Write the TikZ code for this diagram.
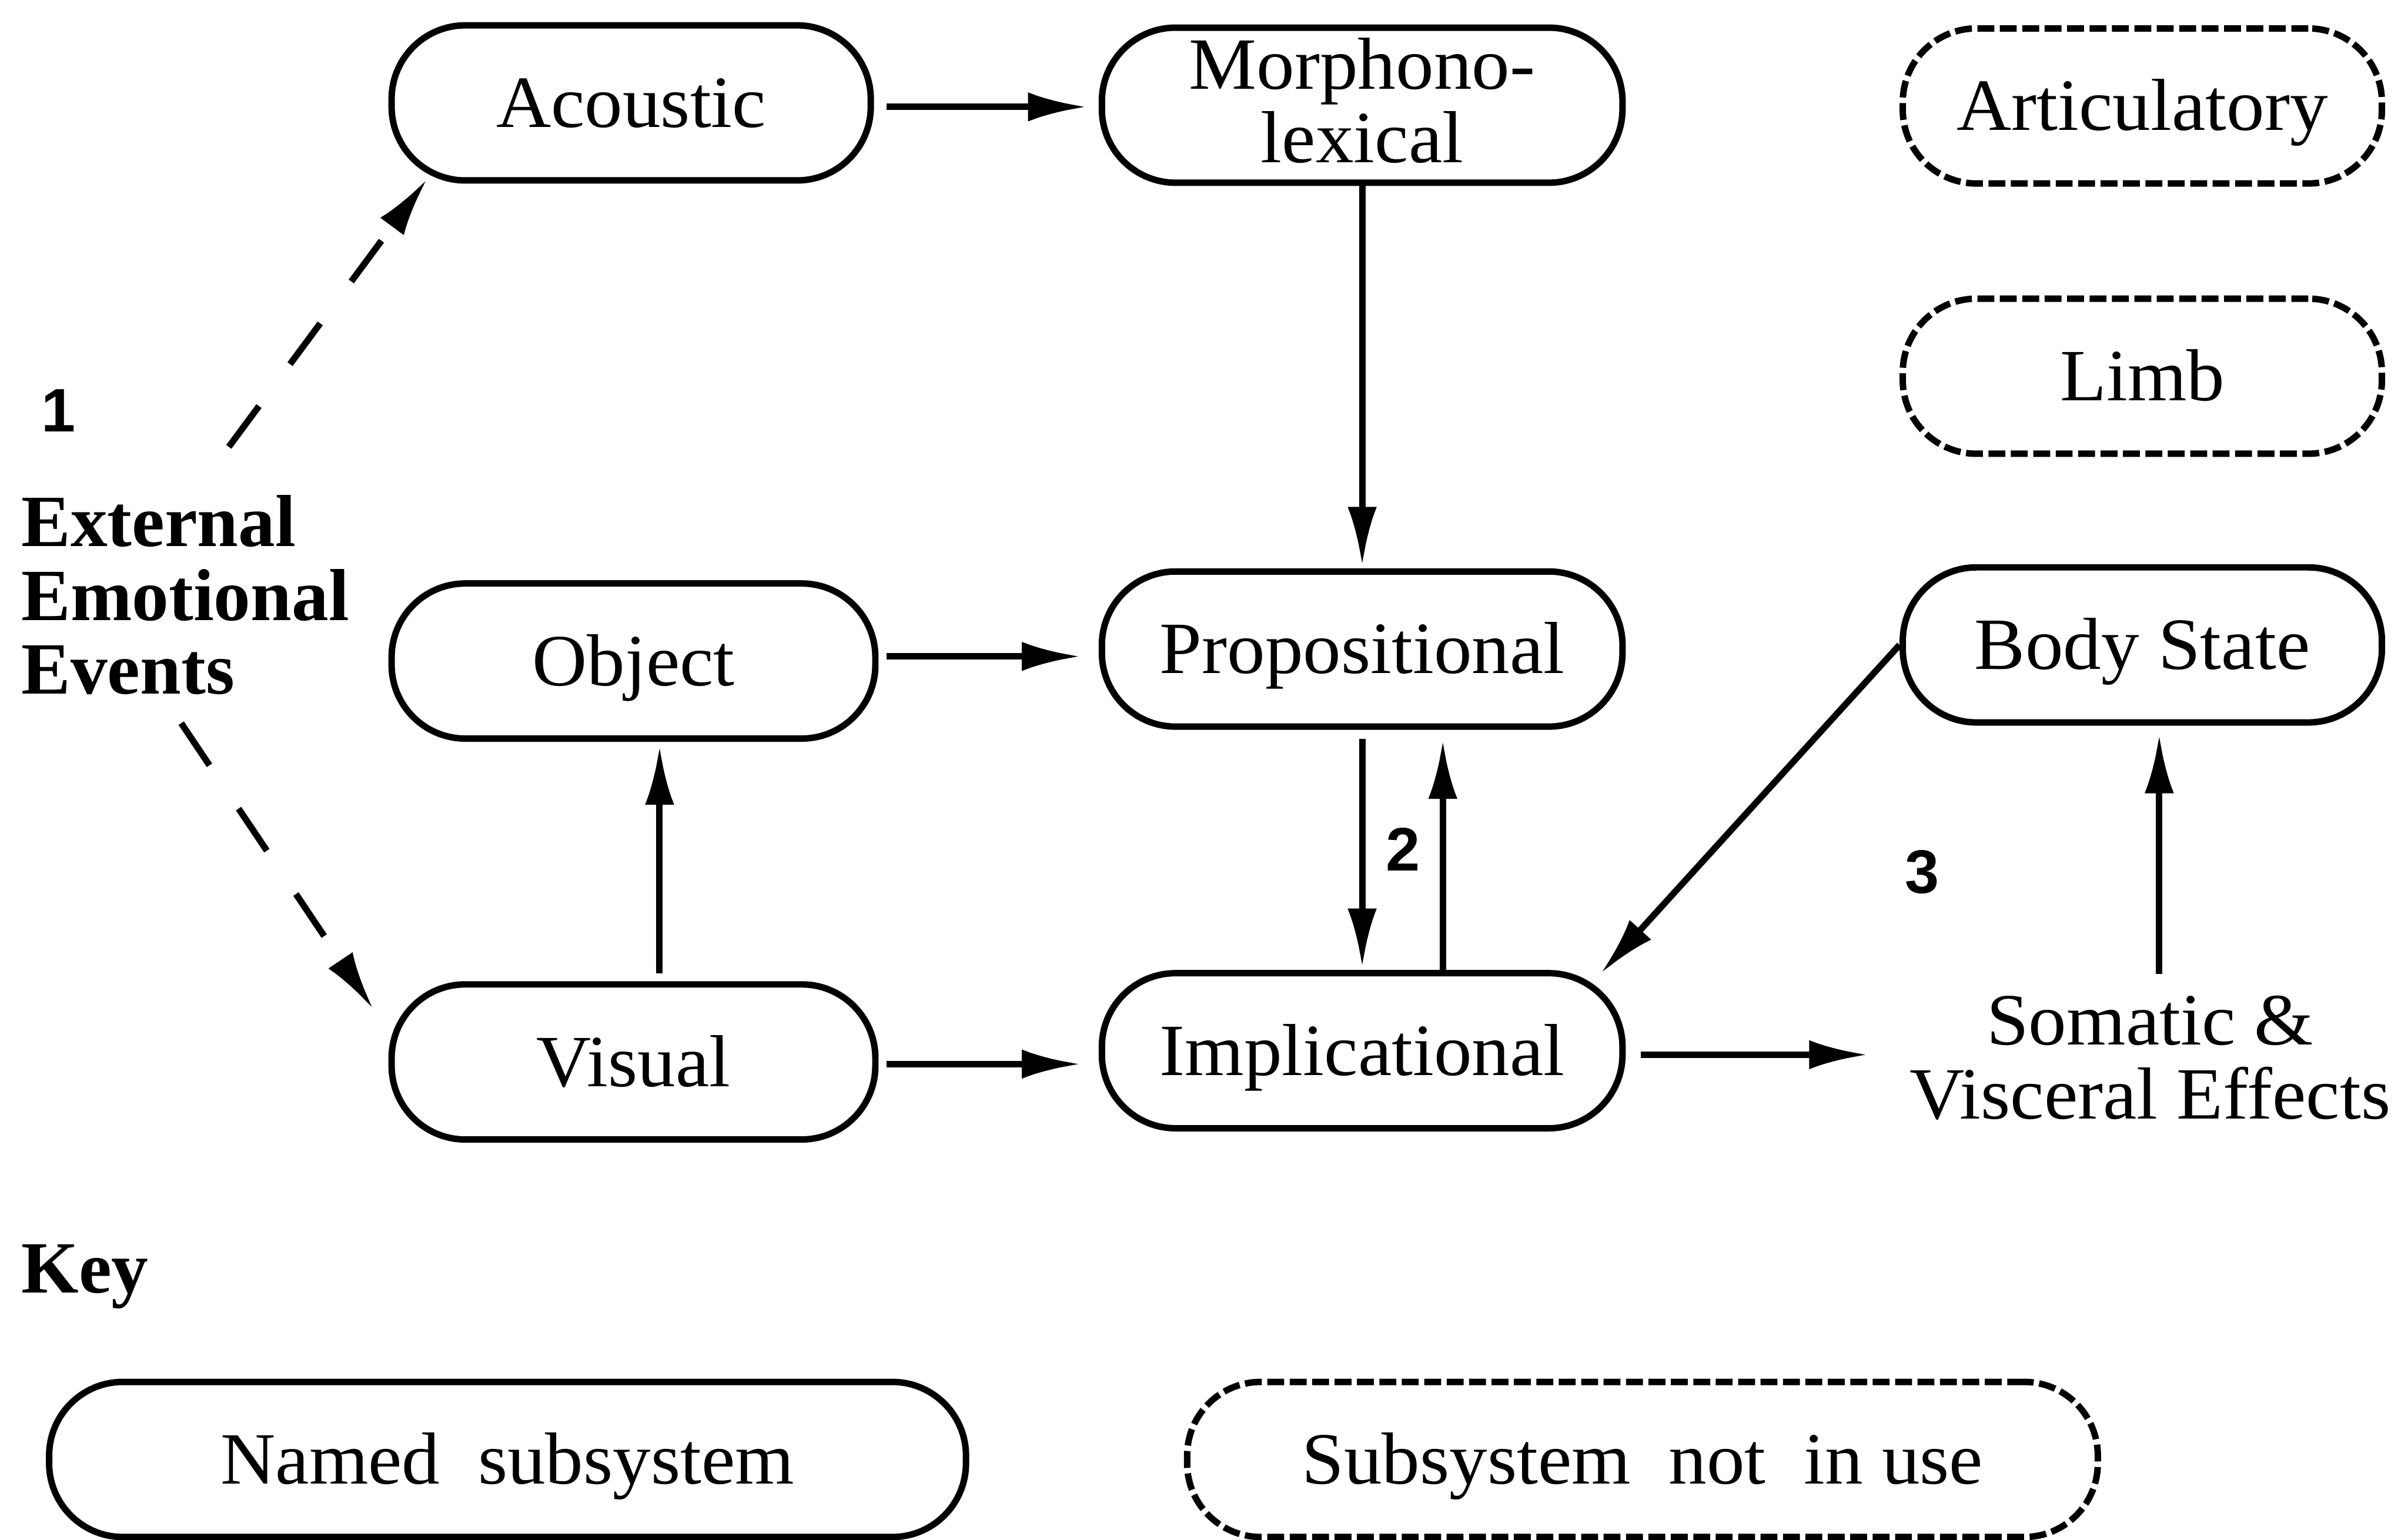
\documentclass[tikz,border=0pt]{standalone}
\usepackage{fontspec}
\setmainfont{Liberation Serif}[FakeStretch=1.03]
\newfontfamily\labelfam{Liberation Serif}
\newfontfamily\numfam{Liberation Sans}
\usetikzlibrary{arrows.meta}

% type faces: serif text, bold serif labels, bold sans numbers
\newcommand\boxtext{\fontsize{24}{24}\selectfont}
\newcommand\boldlabel{\labelfam\bfseries\fontsize{24}{24}\selectfont}
\newcommand\numlabel{\numfam\bfseries\fontsize{20}{20}\selectfont}

\tikzset{
  subsys/.style={draw, line width=2.1pt, rounded corners=24pt,
    minimum width=#1, minimum height=50.5pt, inner sep=0pt,
    text height=15.9pt, text depth=0pt,
    align=center, font=\boxtext},
  subsys/.default=157.5pt,
  idle/.style={subsys=#1, dash pattern=on 5.5pt off 1.8pt},
  idle/.default=156pt,
  flow/.style={line width=2.1pt, -{Latex[length=19pt,width=9.5pt]}},
  flowdash/.style={flow, dash pattern=on 16.5pt off 17pt},
}

\begin{document}
\begin{tikzpicture}[x=0.5pt, y=-0.5pt]
\useasboundingbox (0,0) rectangle (1568,1002.6);

% subsystems
\node[subsys=156pt]   (acoustic) at (411,67)    {Acoustic};
\node[subsys=169.5pt, text height=37.5pt]
                      (morph)    at (887,68.5)  {Morphono-\\lexical};
\node[idle]           (artic)    at (1395,69)   {Articulatory};
\node[idle]           (limb)     at (1395,245)  {Limb};
\node[subsys]         (object)   at (412.5,430.5) {Object};
\node[subsys=169.5pt] (prop)     at (887,422.7) {Propositional};
\node[subsys=156pt]   (body)     at (1395,420)  {Body State};
\node[subsys]         (visual)   at (412.5,691.6) {Visual};
\node[subsys=169.5pt] (impl)     at (887,684.3) {Implicational};
\node[inner xsep=0pt, inner ysep=7pt, align=center, font=\boxtext]
                      (somatic)  at (1400,689)  {Somatic \&\\Visceral Effects};

% labels
\node[anchor=base west, inner sep=0pt, align=left, font=\boldlabel]
      (events) at (13.6,452) {External\\Emotional\\Events};
\node[font=\numlabel, inner sep=0pt] (n1) at (38,267.5)   {1};
\node[font=\numlabel, inner sep=0pt] (n2) at (913.5,553)  {2};
\node[font=\numlabel, inner sep=0pt] (n3) at (1251.5,568) {3};

% key
\node[anchor=base west, inner sep=0pt, font=\boldlabel] (key) at (13.6,842) {Key};
\node[subsys=298.5pt] (keynamed) at (330.5,950.5)  {Named\ \ subsystem};
\node[idle=296.5pt]   (keyidle)  at (1069.5,950.5) {Subsystem\ \ not\ \ in use};

% external events entering the sensory subsystems
\coordinate (ev1) at (149,291);
\coordinate (ev2) at (118,471);
\draw[flowdash] (ev1) -- ([xshift=12.5pt,yshift=1.35pt]acoustic.south west);
\draw[flowdash] (ev2) -- ([xshift=-5pt,yshift=-9pt]visual.north west);

% information flow
\draw[flow, shorten <=4pt, shorten >=4pt]
  ([yshift=-1.3pt]acoustic.east) -- ([yshift=-1.3pt]acoustic.east -| morph.west);
\draw[flow, shorten >=1pt] (morph.south) -- (prop.north);
\draw[flow, shorten <=2.5pt, shorten >=6pt]
  ([yshift=1.5pt]object.east) -- ([yshift=1.5pt]object.east -| prop.west);
\draw[flow, shorten <=2.5pt, shorten >=1.5pt]
  ([xshift=8.5pt]visual.north) -- ([xshift=8.5pt]object.south);
\draw[flow, shorten <=2.5pt, shorten >=6pt]
  ([yshift=-0.7pt]visual.east) -- ([yshift=-0.7pt]visual.east -| impl.west);
\draw[flow, shorten <=3pt, shorten >=1pt] (prop.south) -- (impl.north);
\draw[flow, shorten >=3.5pt]
  ([xshift=26.25pt]impl.north) -- ([xshift=26.25pt]prop.south);
\draw[flow] (body.west) -- ([xshift=-8pt,yshift=-1pt]impl.north east);
\draw[flow, shorten <=5pt, shorten >=13.5pt]
  ([yshift=-1.3pt]impl.east) -- ([yshift=-1.3pt]impl.east -| somatic.west);
\draw[flow, shorten >=3pt]
  ([xshift=5.5pt]body.south |- somatic.north) -- ([xshift=5.5pt]body.south);
\end{tikzpicture}
\end{document}
